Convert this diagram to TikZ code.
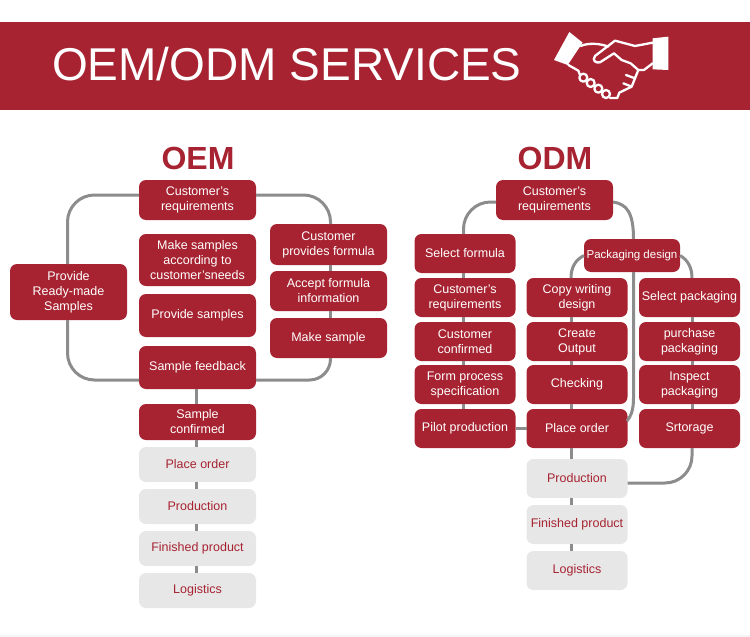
\documentclass[tikz,border=0pt]{standalone}
\usepackage{fontspec}
\setmainfont{Liberation Sans}
\usepackage{tikz}
\definecolor{wine}{HTML}{A72331}
\definecolor{pale}{HTML}{E7E7E7}
\definecolor{wire}{HTML}{8C8C8C}
\tikzset{
  box/.style={fill=wine,text=white,rounded corners=7,align=center,inner sep=0pt,outer sep=0pt,font=\fontsize{12.5}{15}\selectfont},
  step oem/.style={minimum width=117},
  step odm/.style={minimum width=101},
  soft/.style={box,fill=pale,text=wine},
  link/.style={draw=wire,line width=3pt,rounded corners=27},
  curved link/.style={draw=wire,line width=3pt},
  icon/.style={draw=white,line width=2.3pt,line join=round,line cap=round}
}
\begin{document}
\begin{tikzpicture}[x=1pt,y=-1pt]
\useasboundingbox (0,0) rectangle (750,637);
\fill[pale!40] (0,635) rectangle (750,637);
\node[fill=wine,minimum width=750,minimum height=88,inner sep=0pt] (banner) at (375,66) {};
\node[anchor=west,text=white,inner sep=0pt,font=\fontsize{46}{50}\selectfont] (title) at (52,64) {OEM/ODM SERVICES};
\node[text=wine,inner sep=0pt,font=\fontsize{32}{36}\selectfont\bfseries] (oem) at (198,158) {OEM};
\node[text=wine,inner sep=0pt,font=\fontsize{32}{36}\selectfont\bfseries] (odm) at (555,158) {ODM};

\node[box,step oem,minimum height=40] (a1) at (197.5,200) {Customer's\\requirements};
\node[box,step oem,minimum height=52] (a2) at (197.5,260) {Make samples\\according to\\customer'sneeds};
\node[box,step oem,minimum height=43] (a3) at (197.5,315.5) {Provide samples};
\node[box,step oem,minimum height=43] (a4) at (197.5,367.5) {Sample feedback};
\node[box,step oem,minimum height=36] (a5) at (197.5,422) {Sample\\confirmed};
\node[soft,step oem,minimum height=35] (a6) at (197.5,464.5) {Place order};
\node[soft,step oem,minimum height=35] (a7) at (197.5,506.5) {Production};
\node[soft,step oem,minimum height=35] (a8) at (197.5,548.5) {Finished product};
\node[soft,step oem,minimum height=35] (a9) at (197.5,590.5) {Logistics};
\node[box,step oem,minimum height=56] (l1) at (68.5,292) {Provide\\Ready-made\\Samples};
\node[box,step oem,minimum height=41] (r1) at (328.5,244.5) {Customer\\provides formula};
\node[box,step oem,minimum height=40] (r2) at (328.5,291) {Accept formula\\information};
\node[box,step oem,minimum height=40] (r3) at (328.5,338) {Make sample};

\node[box,step oem,minimum height=40] (b1) at (554.5,200) {Customer's\\requirements};
\node[box,step odm,minimum height=39] (c1) at (465,253.5) {Select formula};
\node[box,step odm,minimum height=39] (c2) at (465,297.5) {Customer's\\requirements};
\node[box,step odm,minimum height=39] (c3) at (465,341.5) {Customer\\confirmed};
\node[box,step odm,minimum height=39] (c4) at (465,384.5) {Form process\\specification};
\node[box,step odm,minimum height=39] (c5) at (465,428.5) {Pilot production};
\node[box,minimum width=96,minimum height=33,font=\fontsize{11.5}{15}\selectfont] (p0) at (632,255.5) {Packaging design};
\node[box,step odm,minimum height=39] (d1) at (577,297.5) {Copy writing\\design};
\node[box,step odm,minimum height=39] (d2) at (577,341.5) {Create\\Output};
\node[box,step odm,minimum height=39] (d3) at (577,384.5) {Checking};
\node[box,step odm,minimum height=39] (d4) at (577,428.5) {Place order};
\node[soft,step odm,minimum height=39] (d5) at (577,478.5) {Production};
\node[soft,step odm,minimum height=39] (d6) at (577,524.5) {Finished product};
\node[soft,step odm,minimum height=39] (d7) at (577,570.5) {Logistics};
\node[box,step odm,minimum height=39] (e1) at (689.5,297.5) {Select packaging};
\node[box,step odm,minimum height=39] (e2) at (689.5,341.5) {purchase\\packaging};
\node[box,step odm,minimum height=39] (e3) at (689.5,384.5) {Inspect\\packaging};
\node[box,step odm,minimum height=39] (e4) at (689.5,428.5) {Srtorage};

\coordinate (xa) at (67.5,0); \coordinate (xr) at (330.5,0); \coordinate (xb) at (196.5,0);
\coordinate (ya) at (0,195); \coordinate (yb) at (0,380); \coordinate (yc) at (0,202); \coordinate (yd) at (0,483);
\coordinate (xc) at (463.5,0); \coordinate (xd) at (571,0);
\coordinate (xp) at (633.5,0); \coordinate (xe) at (692,0);
\coordinate (q1) at (633.5,398); \coordinate (q2) at (627,421);

\draw[link] (a1.west |- ya) -| (l1.north -| xa);
\draw[link] (l1.south -| xa) |- (a4.west |- yb);
\draw[link] (a1.east |- ya) -| (r1.north -| xr);
\draw[link,rounded corners=21] (r3.south -| xr) |- (a4.east |- yb);
\draw[link] (r1.south -| xr) -- (r2.north -| xr);
\draw[link] (r2.south -| xr) -- (r3.north -| xr);
\draw[link] (a4.south -| xb) -- (a5.north -| xb);
\draw[link] (a5.south -| xb) -- (a6.north -| xb);
\draw[link] (a6.south -| xb) -- (a7.north -| xb);
\draw[link] (a7.south -| xb) -- (a8.north -| xb);
\draw[link] (a8.south -| xb) -- (a9.north -| xb);

\draw[link] (b1.west |- yc) -| (c1.north -| xc);
\draw[curved link] (b1.east |- yc) .. controls (627,204) and (633.5,213) .. (p0.north -| xp);
\draw[link] (c1.south -| xc) -- (c2.north -| xc);
\draw[link] (c2.south -| xc) -- (c3.north -| xc);
\draw[link] (c3.south -| xc) -- (c4.north -| xc);
\draw[link] (c4.south -| xc) -- (c5.north -| xc);
\draw[link] (c5) -- (d4);
\draw[curved link] (p0.west) .. controls (575,260) and (571,268) .. (d1.north -| xd);
\draw[curved link] (p0.east) .. controls (688,260) and (692,268) .. (e1.north -| xe);
\draw[curved link] (p0.south -| xp) -- (q1) .. controls (633.5,410) and (631,416) .. (q2);
\draw[link] (d1.south -| xd) -- (d2.north -| xd);
\draw[link] (d2.south -| xd) -- (d3.north -| xd);
\draw[link] (d3.south -| xd) -- (d4.north -| xd);
\draw[link] (d4.south -| xd) -- (d5.north -| xd);
\draw[link] (d5.south -| xd) -- (d6.north -| xd);
\draw[link] (d6.south -| xd) -- (d7.north -| xd);
\draw[link] (e1.south -| xe) -- (e2.north -| xe);
\draw[link] (e2.south -| xe) -- (e3.north -| xe);
\draw[link] (e3.south -| xe) -- (e4.north -| xe);
\draw[link] (e4.south -| xe) |- (d5.east |- yd);

\begin{scope}[shift={(540,20)},x=.3333pt,y=-.3333pt]
\fill[white] (88,36) -- (128,68) -- (83,135) -- (42,120) -- cycle;
\fill[white] (338,55) -- (385,50) -- (385,150) -- (338,148) -- cycle;
\draw[icon] (122,78) .. controls (145,68) and (180,70) .. (205,80);
\draw[icon] (338,68) -- (285,78) -- (225,62) -- (165,108) .. controls (155,122) and (168,130) .. (180,127) -- (222,100) -- (245,120) -- (272,130) -- (295,150) -- (312,150) -- (338,130);
\draw[icon] (85,135) -- (115,152) -- (120,165);
\draw[icon] (130,173) circle (12);
\draw[icon] (152,189) circle (12);
\draw[icon] (175,206) circle (12);
\draw[icon] (198,222) circle (12);
\draw[icon] (295,150) -- (285,175) -- (258,165);
\draw[icon] (285,175) -- (275,200) -- (250,190);
\draw[icon] (275,200) -- (238,218) -- (232,234) -- (210,234);
\end{scope}
\end{tikzpicture}
\end{document}
